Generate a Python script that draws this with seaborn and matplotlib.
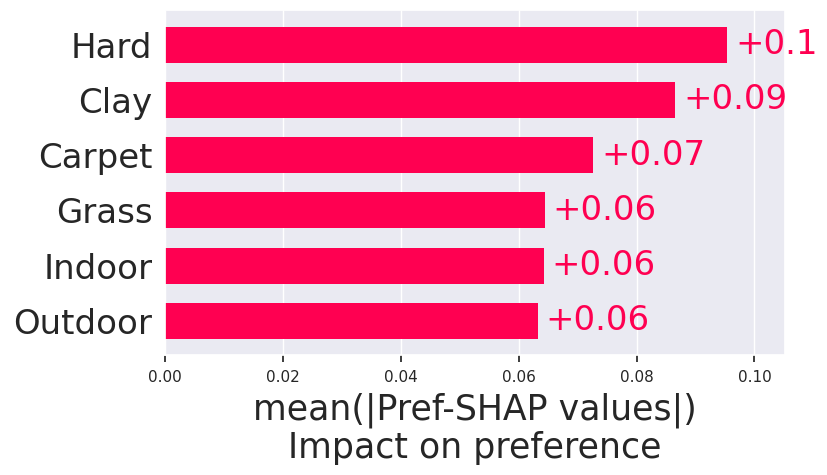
import numpy as np
import pandas as pd
import matplotlib
matplotlib.use("Agg")
import matplotlib.pyplot as plt
import seaborn as sns

# feature names and mean |Pref-SHAP| values
features = ["Hard", "Clay", "Carpet", "Grass", "Indoor", "Outdoor"]
importance = [0.0954, 0.0866, 0.0727, 0.0645, 0.0643, 0.0633]
xtick_vals = [0.00, 0.02, 0.04, 0.06, 0.08, 0.10]

bar_color = "#ff0051"

sns.set_theme(style="darkgrid")
plt.rcParams["font.family"] = ["DejaVu Sans"]
plt.rcParams["xtick.bottom"] = True
plt.rcParams["xtick.major.size"] = 5
plt.rcParams["xtick.color"] = "#262626"

df = pd.DataFrame({"feature": features, "importance": importance})

fig = plt.figure(figsize=(8.28, 4.75), dpi=100)
ax = fig.add_axes([0.1993, 0.2526, 0.7488, 0.7263])

sns.barplot(data=df, x="importance", y="feature", orient="h",
            color=bar_color, saturation=1, width=0.65, linewidth=0, ax=ax)

for i, v in enumerate(df["importance"]):
    ax.text(v + 0.0013, i, "%+.1g" % v, color=bar_color, fontsize=24.5,
            va="center", ha="left")

ax.set_xlim(0, 0.1052)
ax.set_ylim(5.62, -0.63)
ax.set_xticks(xtick_vals)
ax.set_xticklabels(["%.2f" % t for t in xtick_vals], fontsize=11)
ax.tick_params(axis="y", labelsize=24.5, length=0, pad=9)
ax.tick_params(axis="x", pad=6)
ax.set_ylabel("")
ax.set_xlabel("mean(|Pref-SHAP values|)\nImpact on preference", fontsize=25,
              labelpad=5, linespacing=1.12)

fig.savefig("out.png", dpi=100)
